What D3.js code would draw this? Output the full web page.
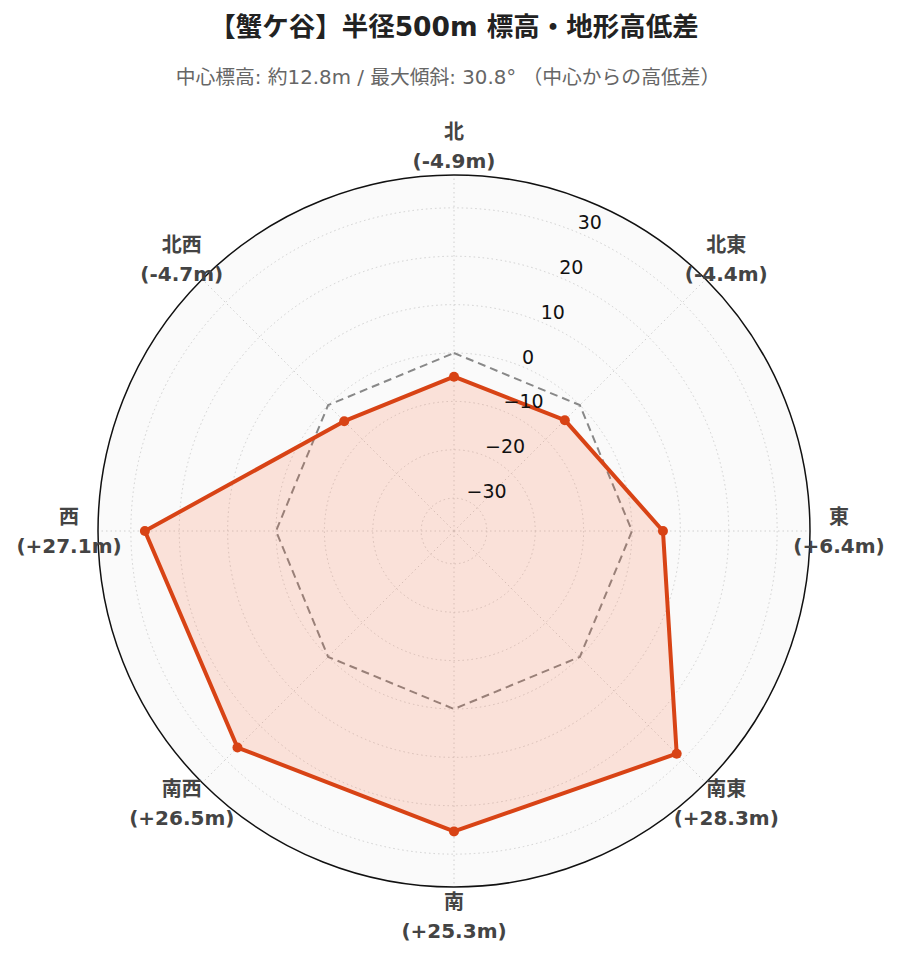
<!DOCTYPE html>
<html><head><meta charset="utf-8">
<script src="https://cdn.jsdelivr.net/npm/d3@7"></script>
<style>
body{margin:0;background:#fff;}
svg{display:block;}
</style></head>
<body>
<svg id="chart" width="900" height="962"></svg>
<script>
const directions = ["北","北東","東","南東","南","南西","西","北西"];
const values = [-4.9,-4.4,6.4,28.3,25.3,26.5,27.1,-4.7];
const valueLabels = ["(-4.9m)","(-4.4m)","(+6.4m)","(+28.3m)","(+25.3m)","(+26.5m)","(+27.1m)","(-4.7m)"];
const referenceValues = [0,0,0,0,0,0,0,0];
const radialTicks = [-30,-20,-10,0,10,20,30];
const radialTickLabels = ["−30","−20","−10","0","10","20","30"];
const radialDomain = [-36.79, 36.79];
const titleText = "【蟹ケ谷】半径500m 標高・地形高低差";
const subtitleText = "中心標高: 約12.8m / 最大傾斜: 30.8° （中心からの高低差）";

const svg = d3.select("#chart");
const cx = 454, cy = 531, R = 356;
const FONT = "'DejaVu Sans','Noto Sans CJK JP',sans-serif";

const r = d3.scaleLinear().domain(radialDomain).range([0, R]);
const ang = d3.scalePoint().domain(directions).range([0, 2*Math.PI*7/8]);

svg.append("text").attr("x",454).attr("y",36).attr("text-anchor","middle")
  .attr("font-family",FONT).attr("font-weight","bold").attr("font-size",26.5).attr("fill","#222").text(titleText);
svg.append("text").attr("x",448).attr("y",84).attr("text-anchor","middle")
  .attr("font-family",FONT).attr("font-size",19.8).attr("fill","#666").text(subtitleText);

const g = svg.append("g").attr("transform",`translate(${cx},${cy})`);
g.append("circle").attr("r",R).attr("fill","#fafafa");

// grid circles
g.selectAll(".grid").data(radialTicks).join("circle")
  .attr("r", d=>r(d)).attr("fill","none").attr("stroke","#d0d0d0")
  .attr("stroke-width",1).attr("stroke-dasharray","1.5,3");
// spokes
g.selectAll(".spoke").data(directions).join("line")
  .attr("x1",0).attr("y1",0)
  .attr("x2",d=>R*Math.sin(ang(d))).attr("y2",d=>-R*Math.cos(ang(d)))
  .attr("stroke","#d0d0d0").attr("stroke-width",1).attr("stroke-dasharray","1.5,3");

const line = d3.lineRadial().angle((d,i)=>ang(directions[i])).radius(d=>r(d)).curve(d3.curveLinearClosed);

// reference dashed
g.append("path").datum(referenceValues).attr("d",line)
  .attr("fill","none").attr("stroke","#888").attr("stroke-width",2).attr("stroke-dasharray","8,5");

// data
g.append("path").datum(values).attr("d",line)
  .attr("fill","rgba(255,87,34,0.15)").attr("stroke","#d84315").attr("stroke-width",4).attr("stroke-linejoin","round");
g.selectAll(".pt").data(values).join("circle")
  .attr("cx",(d,i)=>r(d)*Math.sin(ang(directions[i])))
  .attr("cy",(d,i)=>-r(d)*Math.cos(ang(directions[i])))
  .attr("r",5).attr("fill","#d84315");

// outer circle
g.append("circle").attr("r",R).attr("fill","none").attr("stroke","#111").attr("stroke-width",1.5);

// radial tick labels at 22.5deg
const ta = Math.PI/8;
g.selectAll(".rtick").data(radialTicks).join("text")
  .attr("x",d=>r(d)*Math.sin(ta)).attr("y",d=>-r(d)*Math.cos(ta)-3)
  .attr("font-family",FONT).attr("font-size",19).attr("fill","#111")
  .text((d,i)=>radialTickLabels[i]);

// angular labels
const lab = g.selectAll(".alab").data(directions).join("text")
  .attr("text-anchor","middle").attr("font-family",FONT).attr("font-weight","bold")
  .attr("font-size",20).attr("fill","#444")
  .attr("transform",d=>`translate(${385*Math.sin(ang(d))},${-385*Math.cos(ang(d))})`);
lab.append("tspan").attr("x",0).attr("y",-7).text(d=>d);
lab.append("tspan").attr("x",0).attr("y",22).text((d,i)=>valueLabels[i]);
</script>
</body></html>
